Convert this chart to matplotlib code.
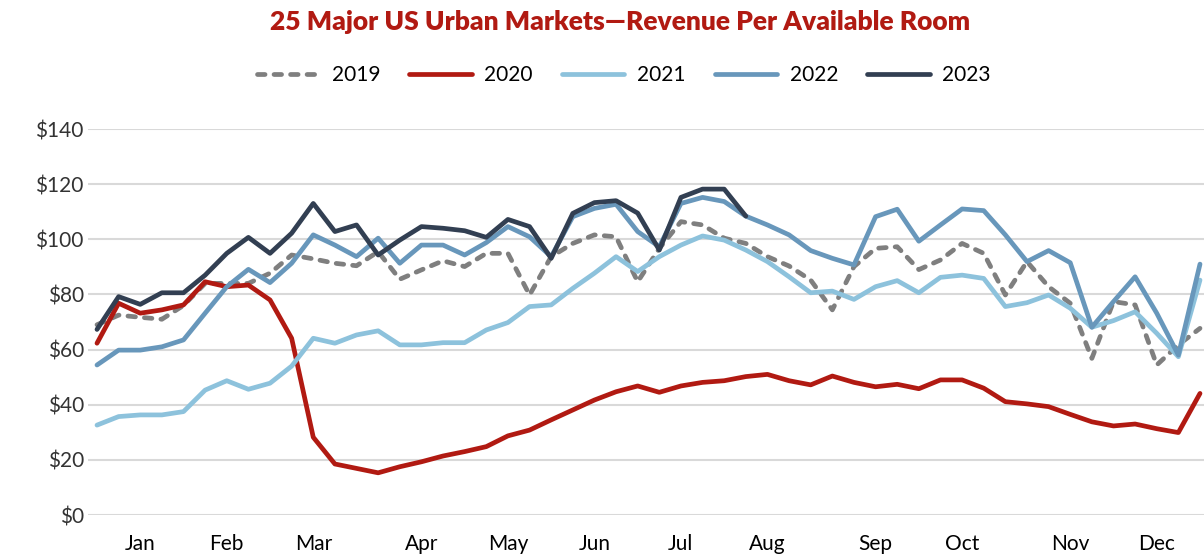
import matplotlib
matplotlib.use("Agg")
import matplotlib.pyplot as plt
from matplotlib.ticker import FuncFormatter
import numpy as np

plt.rcParams['font.family'] = ['Lato', 'DejaVu Sans']

# weekly RevPAR, 52 weeks
weeks = np.arange(52)
month_pos = [2, 6, 10, 15, 19, 23, 27, 31, 36, 40, 45, 49]
month_labels = ['Jan', 'Feb', 'Mar', 'Apr', 'May', 'Jun',
                'Jul', 'Aug', 'Sep', 'Oct', 'Nov', 'Dec']

rev_2019 = [69, 72.5, 71.7, 71, 76, 84, 84, 84, 87.7, 94.3, 92.9, 91.3, 90.4,
            95.5, 85.5, 88.9, 92.2, 90.1, 94.9, 94.9, 79.8, 93.7, 98.5, 101.6,
            100.9, 84.6, 96.7, 106.4, 105.2, 100.4, 98.5, 93.7, 90.3, 85.2,
            74.4, 90.1, 96.7, 97.3, 89, 92.5, 98.5, 94.9, 79.8, 91.9, 82.8,
            76.8, 56.8, 77.4, 76.2, 54.4, 61.7, 67.7]
rev_2020 = [62.3, 76.8, 73.2, 74.4, 76.2, 84.6, 82.8, 83.4, 78, 64.1, 28.2,
            18.5, 16.9, 15.3, 17.5, 19.3, 21.4, 23, 24.8, 28.7, 30.8, 34.5,
            38.1, 41.7, 44.7, 46.8, 44.5, 46.8, 48.1, 48.7, 50.2, 51, 48.7,
            47.2, 50.4, 48.1, 46.5, 47.4, 45.8, 49, 49, 46, 41.1, 40.3, 39.3,
            36.5, 33.8, 32.3, 33, 31.3, 29.9, 44.1]
rev_2021 = [32.6, 35.7, 36.3, 36.3, 37.5, 45.3, 48.7, 45.6, 47.8, 54, 64.1,
            62.3, 65.3, 66.8, 61.7, 61.7, 62.5, 62.5, 67.1, 69.8, 75.6, 76.2,
            82.2, 87.7, 93.7, 88.3, 93.7, 97.9, 101.2, 99.7, 96.1, 91.9, 86.4,
            80.6, 81.2, 78.2, 82.8, 85, 80.6, 86.2, 87, 85.8, 75.6, 77, 79.8,
            75, 68.1, 70.5, 73.7, 65.9, 57.4, 85.2]
rev_2022 = [54.4, 59.8, 59.8, 61, 63.5, 73.2, 82.8, 89.1, 84.3, 91.3, 101.6,
            97.9, 93.7, 100.4, 91.3, 97.9, 97.9, 94.3, 98.8, 104.6, 100.9, 93.7,
            108.2, 111.2, 112.7, 102.8, 97.3, 113, 115.2, 113.7, 108.4, 105.2,
            101.6, 95.9, 93.1, 90.7, 108.2, 110.9, 99.3, 105.2, 111, 110.4,
            101.6, 91.9, 95.9, 91.5, 68.1, 77.4, 86.4, 73.2, 58, 91]
rev_2023 = [67.3, 79.2, 76.4, 80.6, 80.6, 87, 94.9, 100.7, 94.9, 102.2, 113,
            102.8, 105.2, 94.3, 99.7, 104.6, 104, 103.1, 100.7, 107.2, 104.6,
            93.1, 109.4, 113.3, 114, 109.5, 96.1, 115.2, 118.2, 118.2, 108.4]

years = ['2019', '2020', '2021', '2022', '2023']
series = [rev_2019, rev_2020, rev_2021, rev_2022, rev_2023]
colors = ['#7F7F7F', '#B11A12', '#8DC2DC', '#6897BB', '#323F52']

fig = plt.figure(figsize=(12.04, 5.58), dpi=100)
ax = fig.add_axes([88 / 1204, 1 - 515 / 558, 1116 / 1204, 386 / 558])

for name, vals, col in zip(years, series, colors):
    x = weeks[:len(vals)]
    if name == '2019':
        ax.plot(x, vals, color=col, lw=3.4, label=name, dashes=(1.6, 1.9),
                dash_capstyle='round', solid_capstyle='round')
    else:
        ax.plot(x, vals, color=col, lw=3.4, label=name,
                solid_capstyle='round', solid_joinstyle='round')

ax.set_xlim(-0.416, 51.185)
ax.set_ylim(0, 140)
ax.set_yticks(range(0, 141, 20))
ax.yaxis.set_major_formatter(FuncFormatter(lambda v, p: f'${v:.0f}'))
ax.set_xticks(month_pos)
ax.set_xticklabels(month_labels)
ax.tick_params(axis='x', length=0, pad=14, labelsize=15, colors='black')
ax.tick_params(axis='y', length=0, pad=3, labelsize=15, colors='#333333')
ax.grid(axis='y', color='#D9D9D9', lw=1.5)
ax.set_axisbelow(True)
for s in ax.spines.values():
    s.set_visible(False)

fig.text(0.515, 0.96, '25 Major US Urban Markets\u2014Revenue Per Available Room',
         ha='center', va='center', fontsize=19, fontweight='heavy', color='#B11A12')

fig.legend(loc='center', bbox_to_anchor=(0.518, 0.865), ncol=5, frameon=False,
           fontsize=15, handlelength=3.0, handletextpad=0.6, columnspacing=1.4)

fig.savefig('out.png', dpi=100)
